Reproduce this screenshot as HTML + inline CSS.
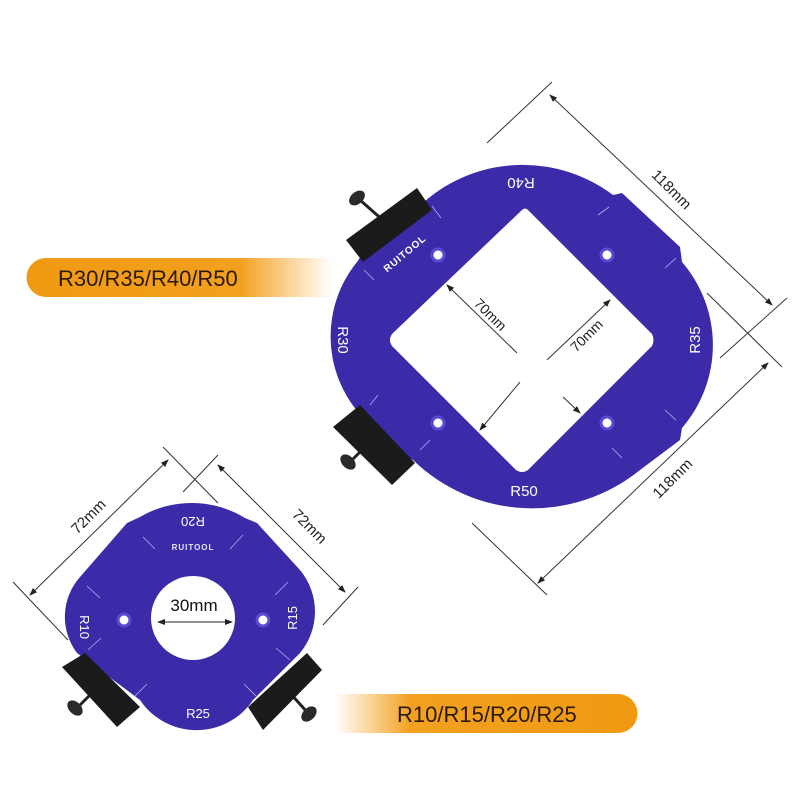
<!DOCTYPE html>
<html><head><meta charset="utf-8"><style>
html,body{margin:0;padding:0;background:#fff;width:800px;height:800px;overflow:hidden}
svg{display:block}
text{font-family:"Liberation Sans",sans-serif}
</style></head><body>
<svg width="800" height="800" viewBox="0 0 800 800" xmlns="http://www.w3.org/2000/svg">
<defs>
<linearGradient id="g1" x1="0" x2="1" y1="0" y2="0">
<stop offset="0" stop-color="#f09a12"/><stop offset="0.7" stop-color="#f2a020"/><stop offset="1" stop-color="#f6a623" stop-opacity="0"/>
</linearGradient>
<linearGradient id="g2" x1="0" x2="1" y1="0" y2="0">
<stop offset="0" stop-color="#f6a623" stop-opacity="0"/><stop offset="0.25" stop-color="#f2a020"/><stop offset="1" stop-color="#f09a12"/>
</linearGradient>
<marker id="ar" markerWidth="8" markerHeight="6" refX="7" refY="3" orient="auto-start-reverse" markerUnits="userSpaceOnUse"><path d="M0,0 L8,3 L0,6 Z" fill="#222"/></marker>
</defs>

<!-- banners -->
<path d="M46,258 H332 V297 H46 A19.5,19.5 0 0 1 46,258 Z" fill="url(#g1)"/>
<text x="58" y="286" font-size="22" fill="#2a1a0a">R30/R35/R40/R50</text>
<path d="M335,694 H618 A19.5,19.5 0 0 1 618,733 H335 Z" fill="url(#g2)"/>
<text x="397" y="722" font-size="22" fill="#2a1a0a">R10/R15/R20/R25</text>

<!-- big plate dims -->
<g stroke="#333" stroke-width="1" fill="none">
<line x1="550" y1="95" x2="772" y2="305" marker-start="url(#ar)" marker-end="url(#ar)"/>
<line x1="487" y1="143" x2="552" y2="82"/>
<line x1="720" y1="358" x2="787" y2="298"/>
<line x1="768" y1="363" x2="538" y2="583" marker-start="url(#ar)" marker-end="url(#ar)"/>
<line x1="707" y1="293" x2="782" y2="367"/>
<line x1="472" y1="523" x2="547" y2="595"/>
</g>
<text transform="translate(668,193) rotate(45)" font-size="15" fill="#222" text-anchor="middle">118mm</text>
<text transform="translate(676,482) rotate(-45)" font-size="15" fill="#222" text-anchor="middle">118mm</text>

<!-- big plate -->
<path d="M430,197 A150,150 0 0 1 613,195 L622,193 L680,247 L682,262 A127,127 0 0 1 682,428 L680,440 L640,470 A171,171 0 0 1 413,460 L380,440 L358,412 A118,118 0 0 1 357,262 L365,250 Z" fill="#3b2ba8"/>
<path d="M522,210 Q525,207 528,210 L652,334 Q655,340 652,346 L528,470 Q522,474 516,470 L392,346 Q388,340 392,334 Z" fill="#fff"/>
<g fill="#fff" stroke="#5a4cd0" stroke-width="3">
<circle cx="438" cy="255" r="6"/><circle cx="607" cy="255" r="6"/>
<circle cx="438" cy="423" r="6"/><circle cx="607" cy="423" r="6"/>
</g>
<g stroke="#b8b0ee" stroke-width="0.8">
<line x1="432" y1="206" x2="441" y2="218"/><line x1="598" y1="215" x2="609" y2="207"/>
<line x1="665" y1="268" x2="676" y2="258"/><line x1="665" y1="410" x2="676" y2="420"/>
<line x1="612" y1="448" x2="622" y2="458"/><line x1="420" y1="450" x2="430" y2="440"/>
<line x1="370" y1="405" x2="378" y2="395"/><line x1="364" y1="270" x2="374" y2="280"/>
</g>
<text transform="translate(521,178) rotate(180)" font-size="15" fill="#fff" text-anchor="middle">R40</text>
<text transform="translate(700,340) rotate(-90)" font-size="15" fill="#fff" text-anchor="middle">R35</text>
<text transform="translate(338,340) rotate(90)" font-size="15" fill="#fff" text-anchor="middle">R30</text>
<text x="524" y="496" font-size="15" fill="#fff" text-anchor="middle">R50</text>
<text transform="translate(407,256) rotate(-40)" font-size="10" font-weight="bold" fill="#fff" text-anchor="middle" letter-spacing="1">RUITOOL</text>
<!-- inner dims -->
<g stroke="#333" stroke-width="1" fill="none">
<line x1="517" y1="353" x2="447" y2="285" marker-end="url(#ar)"/>
<line x1="563" y1="397" x2="580" y2="413" marker-end="url(#ar)"/>
<line x1="547" y1="360" x2="610" y2="300" marker-end="url(#ar)"/>
<line x1="520" y1="382" x2="480" y2="430" marker-end="url(#ar)"/>
</g>
<text transform="translate(487,318) rotate(45)" font-size="14" fill="#222" text-anchor="middle">70mm</text>
<text transform="translate(590,339) rotate(-45)" font-size="14" fill="#222" text-anchor="middle">70mm</text>

<!-- big plate clamps -->
<line x1="360" y1="200" x2="385" y2="222" stroke="#222" stroke-width="3"/>
<ellipse cx="357" cy="198" rx="9" ry="6" transform="rotate(-40 357 198)" fill="#2a2a2a"/>
<polygon points="346,240 417,188 432,210 363,262" fill="#1b1b1b"/>
<line x1="372" y1="440" x2="352" y2="460" stroke="#222" stroke-width="3"/>
<ellipse cx="348" cy="462" rx="9" ry="6" transform="rotate(45 348 462)" fill="#2a2a2a"/>
<polygon points="333,427 360,405 415,463 392,485" fill="#1b1b1b"/>

<!-- small plate dims -->
<g stroke="#333" stroke-width="1" fill="none">
<line x1="30" y1="595" x2="168" y2="460" marker-start="url(#ar)" marker-end="url(#ar)"/>
<line x1="13" y1="582" x2="68" y2="640"/>
<line x1="163" y1="447" x2="218" y2="503"/>
<line x1="218" y1="465" x2="345" y2="592" marker-start="url(#ar)" marker-end="url(#ar)"/>
<line x1="183" y1="492" x2="218" y2="455"/>
<line x1="323" y1="625" x2="358" y2="587"/>
</g>
<text transform="translate(92,520) rotate(-45)" font-size="15" fill="#222" text-anchor="middle">72mm</text>
<text transform="translate(306,530) rotate(45)" font-size="15" fill="#222" text-anchor="middle">72mm</text>

<!-- small plate -->
<path d="M140,517 A102,102 0 0 1 245,518 L257,523 L300,570 A65,65 0 0 1 300,653 L253,700 A68,68 0 0 1 140,700 L77,653 A60,60 0 0 1 80,577 L127,523 Z" fill="#3b2ba8"/>
<circle cx="193" cy="618" r="42" fill="#fff"/>
<g fill="#fff" stroke="#5a4cd0" stroke-width="3">
<circle cx="124" cy="620" r="6"/><circle cx="263" cy="620" r="6"/>
</g>
<g stroke="#b8b0ee" stroke-width="0.8">
<line x1="143" y1="537" x2="155" y2="549"/><line x1="230" y1="549" x2="243" y2="535"/>
<line x1="87" y1="586" x2="100" y2="598"/><line x1="275" y1="595" x2="288" y2="582"/>
<line x1="88" y1="650" x2="101" y2="638"/><line x1="276" y1="648" x2="290" y2="660"/>
<line x1="135" y1="696" x2="147" y2="684"/><line x1="244" y1="684" x2="256" y2="696"/>
</g>
<text transform="translate(193,517) rotate(180)" font-size="13" fill="#fff" text-anchor="middle">R20</text>
<text x="193" y="550" font-size="8" font-weight="bold" fill="#e8e6f8" text-anchor="middle" letter-spacing="1">RUITOOL</text>
<text transform="translate(80,627) rotate(90)" font-size="13" fill="#fff" text-anchor="middle">R10</text>
<text transform="translate(297,618) rotate(-90)" font-size="13" fill="#fff" text-anchor="middle">R15</text>
<text x="198" y="718" font-size="13" fill="#fff" text-anchor="middle">R25</text>
<text x="194" y="611" font-size="17" fill="#111" text-anchor="middle">30mm</text>
<line x1="158" y1="622" x2="232" y2="622" stroke="#222" stroke-width="1" marker-start="url(#ar)" marker-end="url(#ar)"/>

<!-- small clamps -->
<line x1="95" y1="690" x2="78" y2="707" stroke="#222" stroke-width="3"/>
<ellipse cx="75" cy="708" rx="9" ry="6" transform="rotate(45 75 708)" fill="#2a2a2a"/>
<polygon points="62,667 85,653 140,707 117,727" fill="#1b1b1b"/>
<line x1="290" y1="693" x2="307" y2="712" stroke="#222" stroke-width="3"/>
<ellipse cx="309" cy="714" rx="9" ry="6" transform="rotate(-45 309 714)" fill="#2a2a2a"/>
<polygon points="248,707 307,653 322,670 263,730" fill="#1b1b1b"/>
</svg>
</body></html>
